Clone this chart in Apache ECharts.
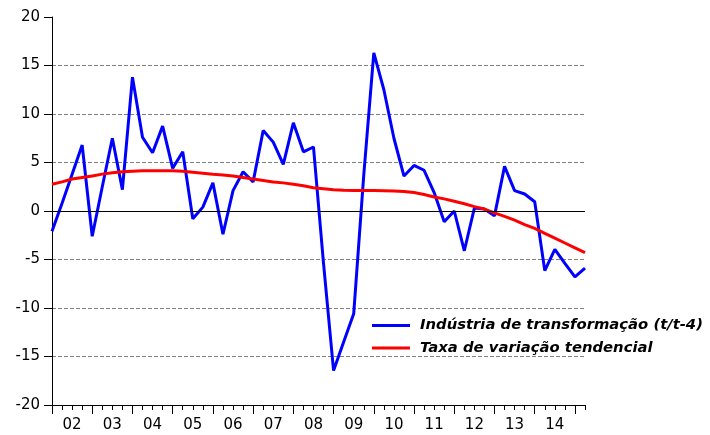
<!DOCTYPE html>
<html>
<head>
<meta charset="utf-8">
<script src="https://cdn.jsdelivr.net/npm/echarts@6/dist/echarts.min.js"></script>
<style>
  html, body { margin: 0; padding: 0; background: #fff; }
  #chart { width: 710px; height: 435px; }
</style>
</head>
<body>
<div id="chart"></div>
<script>
// quarters 2002Q1 .. 2015Q2
var quarters = [];
for (var y = 2002; y <= 2015; y++) {
    for (var q = 1; q <= 4; q++) {
        if (y === 2015 && q > 2) break;
        quarters.push(y + 'Q' + q);
    }
}
var yearLabels = ['02','03','04','05','06','07','08','09','10','11','12','13','14'];

/*Indústria de transformação (t/t-4)*/
var industria = [-2.1, 0.8, 3.8, 6.8, -2.6, 2.5, 7.5, 2.2, 13.8, 7.6,
    6.0, 8.75, 4.4, 6.1, -0.8, 0.4, 2.9, -2.4, 2.1, 4.05,
    3.0, 8.3, 7.1, 4.8, 9.1, 6.1, 6.6, -5.4, -16.45, -13.5,
    -10.6, 3.7, 16.3, 12.5, 7.5, 3.6, 4.7, 4.2, 1.9, -1.1,
    0.0, -4.1, 0.3, 0.2, -0.5, 4.6, 2.1, 1.75, 0.95, -6.15,
    -3.95, -5.4, -6.8, -5.9];

/*Taxa de variação tendencial*/
var tendencial = [2.75, 3.0, 3.3, 3.45, 3.6, 3.8, 3.95, 4.05, 4.1, 4.15,
    4.15, 4.15, 4.15, 4.1, 4.0, 3.9, 3.78, 3.7, 3.6, 3.45,
    3.3, 3.15, 3.0, 2.9, 2.75, 2.6, 2.4, 2.3, 2.2, 2.13,
    2.12, 2.12, 2.12, 2.1, 2.05, 2.0, 1.9, 1.7, 1.45, 1.25,
    1.0, 0.75, 0.45, 0.2, -0.2, -0.55, -0.95, -1.4, -1.8, -2.3,
    -2.8, -3.3, -3.8, -4.3];

var chart = echarts.init(document.getElementById('chart'));

var option = {
    animation: false,
    grid: {
        left: 52,
        right: 125,
        top: 17,
        bottom: 30
    },
    legend: {
        orient: 'vertical',
        left: 372,
        top: 318,
        padding: 0,
        icon: 'rect',
        itemWidth: 38,
        itemHeight: 3,
        itemGap: 7.5,
        textStyle: {
            fontFamily: 'DejaVu Sans',
            fontSize: 14.8,
            fontWeight: 'bold',
            fontStyle: 'italic',
            color: '#000',
            padding: [0, 0, 0, 5]
        },
        data: ['Indústria de transformação (t/t-4)', 'Taxa de variação tendencial']
    },
    xAxis: [
        {
            type: 'category',
            data: quarters,
            boundaryGap: false,
            axisLine: { onZero: false, lineStyle: { color: '#000', width: 1 } },
            axisTick: {
                interval: function (i) { return i % 4 === 0; },
                length: 9,
                lineStyle: { color: '#000' }
            },
            axisLabel: {
                interval: function (i) { return i % 4 === 2; },
                formatter: function (v, i) { return yearLabels[(i - 2) / 4]; },
                margin: 13,
                fontFamily: 'DejaVu Sans',
                fontSize: 15,
                color: '#000'
            },
            splitLine: { show: false }
        },
        {
            type: 'category',
            data: quarters,
            boundaryGap: false,
            position: 'bottom',
            axisLine: { show: false, onZero: false },
            axisTick: {
                interval: 0,
                length: 5,
                lineStyle: { color: '#000' }
            },
            axisLabel: { show: false },
            splitLine: { show: false }
        }
    ],
    yAxis: {
        type: 'value',
        min: -20,
        max: 20,
        interval: 5,
        axisLine: { show: true, onZero: false, lineStyle: { color: '#000', width: 1 } },
        axisTick: { show: true, length: 8, lineStyle: { color: '#000' } },
        axisLabel: {
            margin: 12,
            fontFamily: 'DejaVu Sans',
            fontSize: 15,
            color: '#000'
        },
        splitLine: {
            show: true,
            lineStyle: {
                color: ['transparent', '#808080', '#808080', '#808080', 'transparent',
                    '#808080', '#808080', '#808080', 'transparent'],
                type: [4, 2],
                width: 1
            }
        }
    },
    series: [
        {
            // linha do zero
            type: 'line',
            data: [],
            silent: true,
            z: 1,
            markLine: {
                silent: true,
                symbol: 'none',
                label: { show: false },
                lineStyle: { color: '#000', type: 'solid', width: 1 },
                data: [{ yAxis: 0 }]
            }
        },
        {
            name: 'Indústria de transformação (t/t-4)',
            type: 'line',
            data: industria,
            symbol: 'none',
            z: 3,
            lineStyle: { color: '#0000ff', width: 3 },
            itemStyle: { color: '#0000ff' }
        },
        {
            name: 'Taxa de variação tendencial',
            type: 'line',
            data: tendencial,
            symbol: 'none',
            z: 4,
            lineStyle: { color: '#ff0000', width: 3 },
            itemStyle: { color: '#ff0000' }
        }
    ]
};

chart.setOption(option);
</script>
</body>
</html>
